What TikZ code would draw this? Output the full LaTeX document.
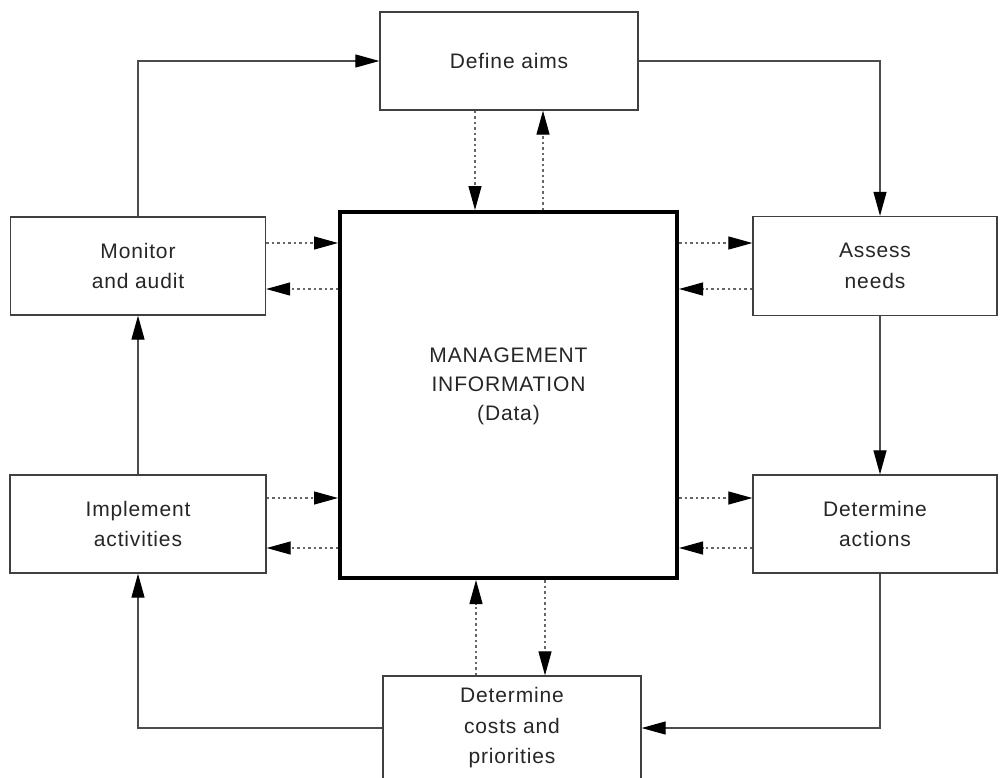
\documentclass[tikz,border=0pt]{standalone}
\usepackage{fontspec}
\setmainfont{Liberation Sans}[LetterSpace=4]
\usetikzlibrary{arrows.meta}
\begin{document}
\begin{tikzpicture}[x=1pt,y=-1pt,
  box/.style={draw=black!75, line width=1.3pt, fill=white, inner sep=0pt, align=center,
    font=\fontsize{21}{30.5}\selectfont, text=black!85},
  tip/.style={-{Triangle[length=24pt,width=13pt,color=black]}},
  flow/.style={draw=black!70, line width=1.2pt, tip},
  info/.style={draw=black!60, line width=1.2pt, dash pattern=on 2.5pt off 3pt, tip}]
\useasboundingbox (0,0) rectangle (1000,777);
\clip (0,0) rectangle (1000,777);
\fill[white] (0,0) rectangle (1000,777);

\node[box, minimum width=258pt, minimum height=98pt] (aims) at (509,61) {Define aims};
\node[box, minimum width=255pt, minimum height=98pt] (monitor) at (138,266) {Monitor\\and audit};
\node[box, minimum width=244pt, minimum height=99pt] (assess) at (875,266) {Assess\\needs};
\node[box, minimum width=256pt, minimum height=98pt] (impl) at (138,524) {Implement\\activities};
\node[box, minimum width=244pt, minimum height=98pt] (actions) at (875,524) {Determine\\actions};
\node[box, minimum width=258pt, minimum height=104pt] (costs) at (512,728) {Determine\\costs and\\priorities};
\node[draw=black, line width=4pt, fill=white, minimum width=337pt, minimum height=366pt, inner sep=0pt] (mi) at (508.5,395) {};
\node[align=center, font=\fontsize{21}{29}\selectfont, text=black!85] (mitext) at (508.5,386) {MANAGEMENT\\INFORMATION\\(Data)};

% main cycle
\draw[flow] (monitor.north) |- (aims.west);
\draw[flow] (aims.east) -| (assess.north -| 880,0);
\draw[flow] (assess.south -| 880,0) -- (actions.north -| 880,0);
\draw[flow] (actions.south -| 880,0) |- (costs.east);
\draw[flow] (costs.west) -| (impl.south);
\draw[flow] (impl.north) -- (monitor.south);

% information exchanges
\draw[info] (aims.south -| 475,0) -- (mi.north -| 475,0);
\draw[info] (mi.north -| 543,0) -- (aims.south -| 543,0);
\draw[info] (monitor.east |- 0,243) -- (mi.west |- 0,243);
\draw[info] (mi.west |- 0,289) -- (monitor.east |- 0,289);
\draw[info] (mi.east |- 0,243) -- (assess.west |- 0,243);
\draw[info] (assess.west |- 0,289) -- (mi.east |- 0,289);
\draw[info] (impl.east |- 0,498) -- (mi.west |- 0,498);
\draw[info] (mi.west |- 0,548) -- (impl.east |- 0,548);
\draw[info] (mi.east |- 0,498) -- (actions.west |- 0,498);
\draw[info] (actions.west |- 0,548) -- (mi.east |- 0,548);
\draw[info] (costs.north -| 476,0) -- (mi.south -| 476,0);
\draw[info] (mi.south -| 545,0) -- (costs.north -| 545,0);
\end{tikzpicture}
\end{document}
